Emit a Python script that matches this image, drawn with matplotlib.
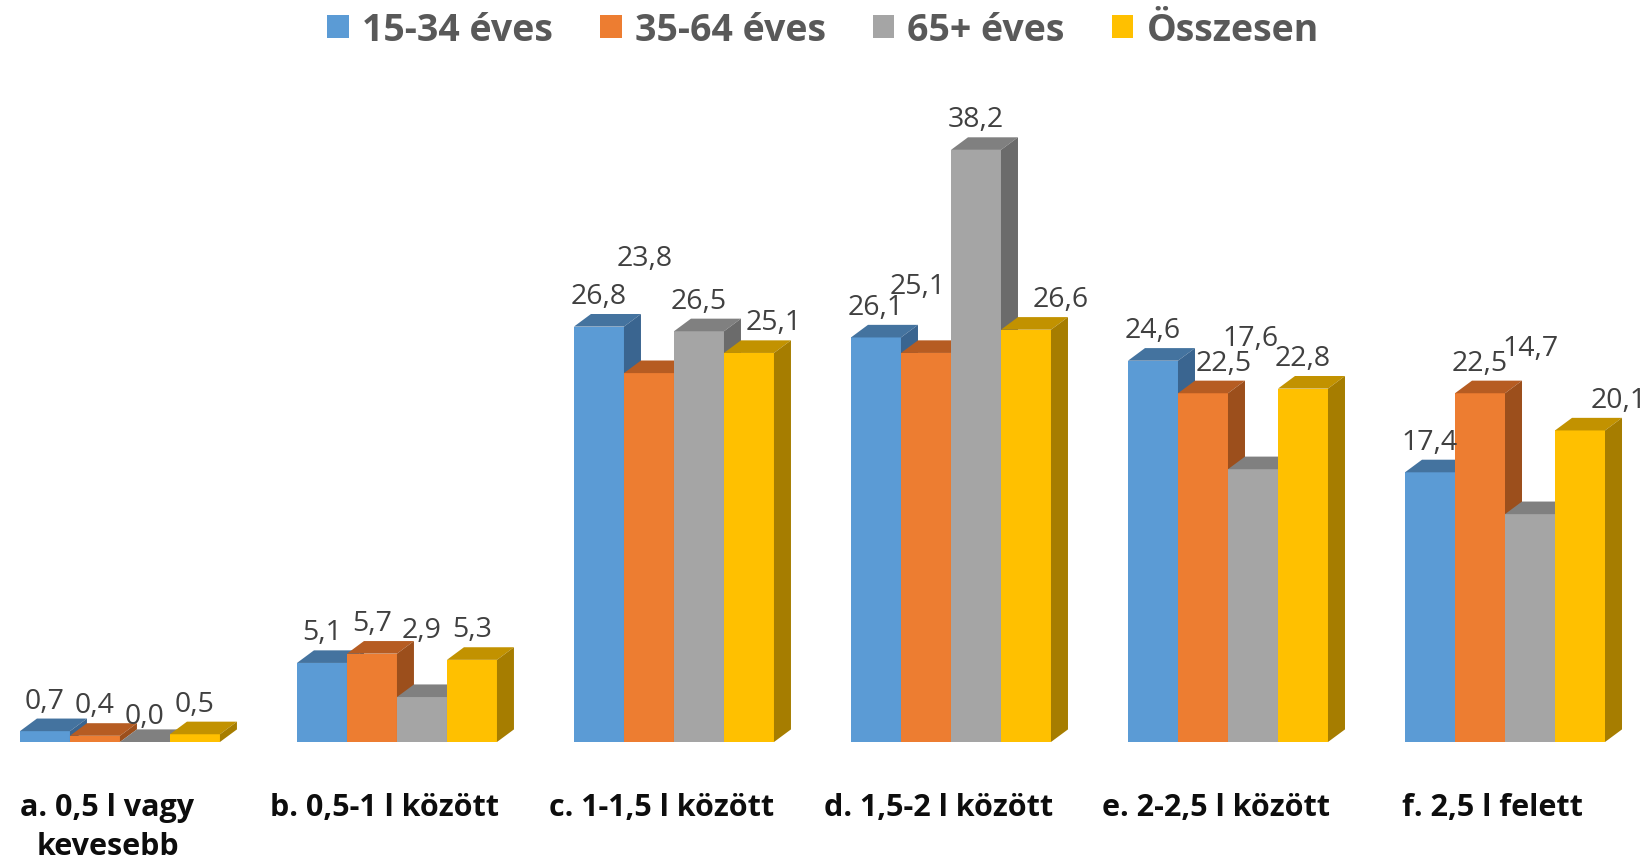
import matplotlib
matplotlib.use('Agg')
import matplotlib.pyplot as plt
from matplotlib.patches import Polygon, Patch
import numpy as np

plt.rcParams['font.family'] = ['Open Sans', 'DejaVu Sans']

# adatok
categories = ['a. 0,5 l vagy\nkevesebb', 'b. 0,5-1 l között', 'c. 1-1,5 l között',
              'd. 1,5-2 l között', 'e. 2-2,5 l között', 'f. 2,5 l felett']
series = ['15-34 éves', '35-64 éves', '65+ éves', 'Összesen']
v_15_34 = [0.7, 5.1, 26.8, 26.1, 24.6, 17.4]
v_35_64 = [0.4, 5.7, 23.8, 25.1, 22.5, 22.5]
v_65 = [0.0, 2.9, 26.5, 38.2, 17.6, 14.7]
v_total = [0.5, 5.3, 25.1, 26.6, 22.8, 20.1]
values = [v_15_34, v_35_64, v_65, v_total]

# szín: elülső lap, teteje, oldala
front = ['#5B9BD5', '#ED7D31', '#A5A5A5', '#FFC000']
top = ['#44739F', '#B65C22', '#808080', '#C29200']
side = ['#3A6590', '#9C4F1C', '#6B6B6B', '#A67D00']

# néhány címke el van tolva az eredeti ábrán (pixel eltolás)
label_shift = {(1, 2): (-4, 85), (1, 3): (-8, 36), (1, 4): (21, 0),
               (2, 0): (0, -5), (2, 1): (0, 36), (2, 4): (-2, 101), (2, 5): (1, 136),
               (3, 2): (25, 0), (3, 3): (35, 0), (3, 5): (39, 0)}

fig = plt.figure(figsize=(16.46, 8.62), dpi=100)
ax = fig.add_axes([0, 119 / 862, 1, 743 / 862])
ax.set_xlim(-0.433, 5.509)
ax.set_ylim(0, 743 / 15.5)

w = 0.1805
dx = 17 / 277
dy = 12.6 / 15.5
x = np.arange(len(categories))

for j, vals in enumerate(values):
    lefts = x - 2 * w + j * w
    ax.bar(lefts, vals, width=w, align='edge', color=front[j], linewidth=0, zorder=2 + j)
    for i, (x0, h) in enumerate(zip(lefts, vals)):
        ax.add_patch(Polygon([(x0, h), (x0 + w, h), (x0 + w + dx, h + dy), (x0 + dx, h + dy)],
                             closed=True, facecolor=top[j], linewidth=0, zorder=2 + j))
        ax.add_patch(Polygon([(x0 + w, 0), (x0 + w + dx, dy), (x0 + w + dx, h + dy), (x0 + w, h)],
                             closed=True, facecolor=side[j], linewidth=0, zorder=2 + j))
        ox, oy = label_shift.get((j, i), (0, 0))
        ax.annotate(f'{h:.1f}'.replace('.', ','), xy=(x0 + w / 2, h + dy),
                    xytext=(ox, 18 + oy), textcoords='offset pixels',
                    ha='center', va='center', fontsize=20.5, color='#404040', zorder=10)

ax.set_xticks(x - 0.045)
ax.set_xticklabels(categories, fontsize=22, fontweight='bold', color='#0D0D0D', linespacing=1.4)
ax.tick_params(axis='x', length=0, pad=36)
ax.set_yticks([])
for s in ax.spines.values():
    s.set_visible(False)

handles = [Patch(facecolor=c, edgecolor='none') for c in front]
fig.legend(handles, series, loc='upper center', bbox_to_anchor=(0.5, 1.008), ncol=4, frameon=False,
           prop={'size': 27, 'weight': 'bold'}, labelcolor='#595959',
           handlelength=0.58, handleheight=0.58, handletextpad=0.35, columnspacing=1.25,
           borderaxespad=0.1)

fig.savefig('out.png', dpi=100, facecolor='white')
